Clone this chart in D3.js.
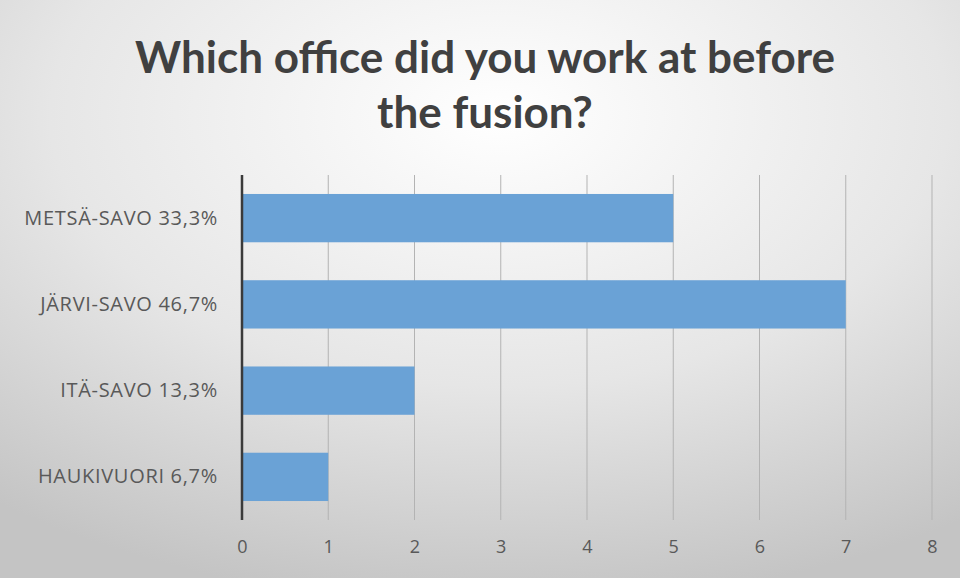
<!DOCTYPE html>
<html>
<head>
<meta charset="utf-8">
<script src="https://cdn.jsdelivr.net/npm/d3@7"></script>
<style>
  html, body { margin: 0; padding: 0; background: #fff; }
  svg { display: block; }
</style>
</head>
<body>
<svg id="chart" width="960" height="578"></svg>
<script>
// data
var offices = ["METSÄ-SAVO 33,3%", "JÄRVI-SAVO 46,7%", "ITÄ-SAVO 13,3%", "HAUKIVUORI 6,7%"];
var counts = [5, 7, 2, 1];
var xTicks = [0, 1, 2, 3, 4, 5, 6, 7, 8];
var titleLines = ["Which office did you work at before", "the fusion?"];

var W = 960, H = 578;
var svg = d3.select("#chart");

// background: soft radial gradient like the office theme
var defs = svg.append("defs");
var grad = defs.append("radialGradient")
    .attr("id", "bg")
    .attr("cx", "52%").attr("cy", "20%").attr("r", "85%");
grad.append("stop").attr("offset", "0%").attr("stop-color", "#ffffff");
grad.append("stop").attr("offset", "55%").attr("stop-color", "#e6e6e6");
grad.append("stop").attr("offset", "100%").attr("stop-color", "#c4c4c4");

svg.append("rect")
    .attr("x", 0).attr("y", 0).attr("width", W).attr("height", H)
    .attr("fill", "url(#bg)");

var x = d3.scaleLinear().domain([0, 8]).range([242, 932]);
var y = d3.scaleBand().domain(offices).range([175, 520]).paddingInner(0.44).paddingOuter(0.22);

// gridlines
svg.append("g")
    .selectAll("line")
    .data(xTicks.slice(1))
    .join("line")
    .attr("x1", d => x(d)).attr("x2", d => x(d))
    .attr("y1", 175).attr("y2", 520)
    .attr("stroke", "#b3b3b3")
    .attr("stroke-width", 1);

// bars
svg.append("g")
    .selectAll("rect")
    .data(offices)
    .join("rect")
    .attr("x", x(0))
    .attr("y", d => y(d))
    .attr("width", (d, i) => x(counts[i]) - x(0))
    .attr("height", y.bandwidth())
    .attr("fill", "#6aa2d6");

// x axis labels
var xAxis = svg.append("g")
    .attr("transform", "translate(0,520)")
    .call(d3.axisBottom(x).tickValues(xTicks).tickSize(0).tickPadding(20));
xAxis.select(".domain").remove();
xAxis.selectAll("text")
    .attr("font-family", "'Open Sans', sans-serif")
    .attr("font-size", 18)
    .attr("fill", "#595959");

// y axis labels
var yAxis = svg.append("g")
    .attr("transform", "translate(" + x(0) + ",0)")
    .call(d3.axisLeft(y).tickSize(0).tickPadding(24));
yAxis.select(".domain").remove();
yAxis.selectAll("text")
    .attr("font-family", "'Open Sans', sans-serif")
    .attr("font-size", 20)
    .attr("letter-spacing", 0.7)
    .attr("fill", "#595959");

// axis line at zero
svg.append("line")
    .attr("x1", x(0)).attr("x2", x(0))
    .attr("y1", 175).attr("y2", 520)
    .attr("stroke", "#3a3a3a")
    .attr("stroke-width", 2.5);

// title
svg.append("g")
    .selectAll("text")
    .data(titleLines)
    .join("text")
    .attr("x", 485)
    .attr("y", (d, i) => 73 + i * 55)
    .attr("text-anchor", "middle")
    .attr("font-family", "Lato, sans-serif")
    .attr("font-weight", "bold")
    .attr("font-size", 44)
    .attr("fill", "#404040")
    .text(d => d);
</script>
</body>
</html>
